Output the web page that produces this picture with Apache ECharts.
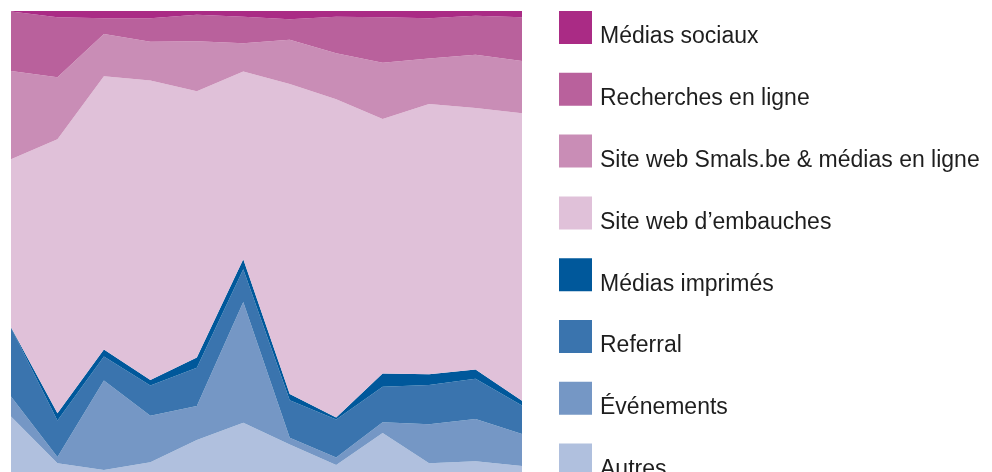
<!DOCTYPE html>
<html>
<head>
<meta charset="utf-8">
<script src="https://cdn.jsdelivr.net/npm/echarts@6/dist/echarts.min.js"></script>
<style>
    html, body { margin: 0; padding: 0; background: #fff; }
    #chart { width: 992px; height: 472px; }
</style>
</head>
<body>
<div id="chart"></div>
<script>
// Periods (x axis is cropped out of the picture)
var periodes = ['janv.', 'févr.', 'mars', 'avr.', 'mai', 'juin', 'juil.', 'août', 'sept.', 'oct.', 'nov.', 'déc.'];

// Share of applications per source, in %
var mediasSociaux   = [0.1, 1.3, 1.5, 1.5, 0.8, 1.2, 1.7, 1.2, 1.3, 1.5, 1.0, 1.3];
var recherches      = [12.4, 12.5, 3.3, 4.9, 5.5, 5.5, 4.3, 7.6, 9.5, 8.4, 8.1, 9.1];
var siteSmals       = [18.4, 12.9, 8.8, 8.1, 10.4, 5.9, 9.2, 9.6, 11.7, 9.5, 11.1, 10.9];
var siteEmbauches   = [35.0, 57.1, 56.9, 62.4, 55.5, 39.1, 64.6, 66.3, 53.0, 56.3, 54.5, 59.9];
var mediasImprimes  = [0.1, 1.5, 1.5, 1.1, 2.1, 2.1, 1.3, 0.4, 2.8, 2.2, 1.9, 1.0];
var referral        = [14.3, 7.6, 5.0, 6.3, 8.0, 6.8, 7.8, 7.9, 7.4, 8.2, 8.4, 5.9];
var evenements      = [4.2, 1.3, 18.6, 9.7, 7.1, 25.2, 1.4, 1.6, 2.2, 8.1, 8.8, 6.7];
var autres          = [15.5, 5.8, 4.4, 6.0, 10.6, 14.2, 9.7, 5.4, 12.1, 5.8, 6.2, 5.2];

var legendNames = ['Médias sociaux', 'Recherches en ligne', 'Site web Smals.be & médias en ligne',
    'Site web d\u2019embauches', 'Médias imprimés', 'Referral', 'Événements', 'Autres'];

// bottom of the stack first
var layers = [
    { name: 'Autres', data: autres, color: '#b0c0de' },
    { name: 'Événements', data: evenements, color: '#7597c5' },
    { name: 'Referral', data: referral, color: '#3a74ae' },
    { name: 'Médias imprimés', data: mediasImprimes, color: '#00589b' },
    { name: 'Site web d\u2019embauches', data: siteEmbauches, color: '#e0c1d9' },
    { name: 'Site web Smals.be & médias en ligne', data: siteSmals, color: '#c98db6' },
    { name: 'Recherches en ligne', data: recherches, color: '#b9619c' },
    { name: 'Médias sociaux', data: mediasSociaux, color: '#aa2b85' }
];

var chart = echarts.init(document.getElementById('chart'), null, { renderer: 'canvas' });

var series = layers.map(function (l) {
    return {
        name: l.name,
        type: 'line',
        stack: 'total',
        data: l.data,
        symbol: 'none',
        smooth: false,
        lineStyle: { width: 0 },
        areaStyle: { color: l.color, opacity: 1 },
        itemStyle: { color: l.color },
        emphasis: { disabled: true },
        silent: true
    };
});

var option = {
    animation: false,
    backgroundColor: '#ffffff',
    // plot runs below the bottom edge of the picture (cropped)
    grid: {
        left: 11,
        top: 11,
        width: 511,
        height: 480,
        containLabel: false,
        outerBoundsMode: 'none'
    },
    legend: {
        data: legendNames,
        orient: 'vertical',
        left: 559,
        top: 11,
        height: 700,
        padding: 0,
        icon: 'rect',
        itemWidth: 33,
        itemHeight: 33,
        itemGap: 24.3,
        selectedMode: false,
        formatter: '{t|{name}}',
        textStyle: {
            fontFamily: 'Liberation Sans',
            fontSize: 23,
            color: '#1e1e1e',
            rich: {
                t: {
                    fontFamily: 'Liberation Sans',
                    fontSize: 23,
                    color: '#1e1e1e',
                    padding: [19, 0, 0, 3]
                }
            }
        }
    },
    xAxis: {
        type: 'category',
        data: periodes,
        boundaryGap: false,
        show: false
    },
    yAxis: {
        type: 'value',
        min: 0,
        max: 100,
        show: false
    },
    series: series
};

chart.setOption(option);
</script>
</body>
</html>
